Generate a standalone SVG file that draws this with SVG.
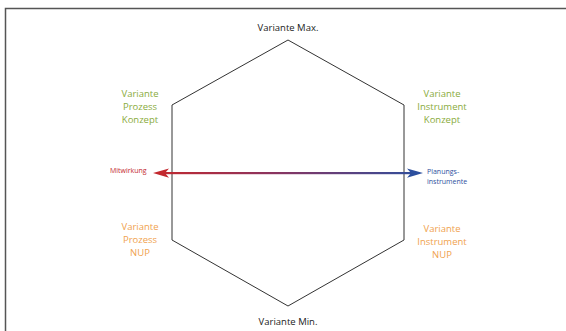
<svg xmlns="http://www.w3.org/2000/svg" width="566" height="331" viewBox="0 0 566 331">
<style>
text{font-family:"Open Sans","Noto Sans",sans-serif;text-anchor:middle}
.t{font-size:9.5px;fill:#222}
.g{font-size:9.5px;fill:#8aab3c}
.o{font-size:9.5px;fill:#f0a24e}
.s{font-size:7px;text-anchor:start}
</style>
<defs>
<linearGradient id="grad" x1="155" y1="0" x2="422" y2="0" gradientUnits="userSpaceOnUse">
<stop offset="0" stop-color="#c3282e"/>
<stop offset="0.45" stop-color="#8a3460"/>
<stop offset="1" stop-color="#2c4f9e"/>
</linearGradient>
</defs>
<path d="M5.5 331 V8.5 H566" fill="none" stroke="#555" stroke-width="1.5"/>
<g id="hexagon">
<polygon points="288,40 404,105 404,240 288,306 172,240 172,105" fill="none" stroke="#333" stroke-width="1"/>
</g>
<g id="max"><text class="t" x="288" y="31">Variante Max.</text></g>
<g id="min"><text class="t" x="288" y="325">Variante Min.</text></g>
<g id="prozess-konzept"><text class="g" x="140" y="97">Variante</text><text class="g" x="140" y="110">Prozess</text><text class="g" x="140" y="123">Konzept</text></g>
<g id="instrument-konzept"><text class="g" x="442" y="97">Variante</text><text class="g" x="442" y="110">Instrument</text><text class="g" x="442" y="123">Konzept</text></g>
<g id="prozess-nup"><text class="o" x="140" y="230">Variante</text><text class="o" x="140" y="243">Prozess</text><text class="o" x="140" y="256">NUP</text></g>
<g id="instrument-nup"><text class="o" x="442" y="232">Variante</text><text class="o" x="442" y="245">Instrument</text><text class="o" x="442" y="258">NUP</text></g>
<g id="mitwirkung"><text class="s" x="110" y="173" fill="#c3282e">Mitwirkung</text></g>
<g id="planungsinstrumente"><text class="s" x="427" y="174" fill="#2c4f9e">Planungs-</text><text class="s" x="427" y="184" fill="#2c4f9e">instrumente</text></g>
<g id="connectors">
<rect x="165" y="172" width="246" height="2.2" fill="url(#grad)"/>
<polygon points="153,173.1 169,168.5 165,173.1 169,177.7" fill="#c3282e"/>
<polygon points="423,173.1 407,168.5 411,173.1 407,177.7" fill="#2c4f9e"/>
</g>
</svg>
